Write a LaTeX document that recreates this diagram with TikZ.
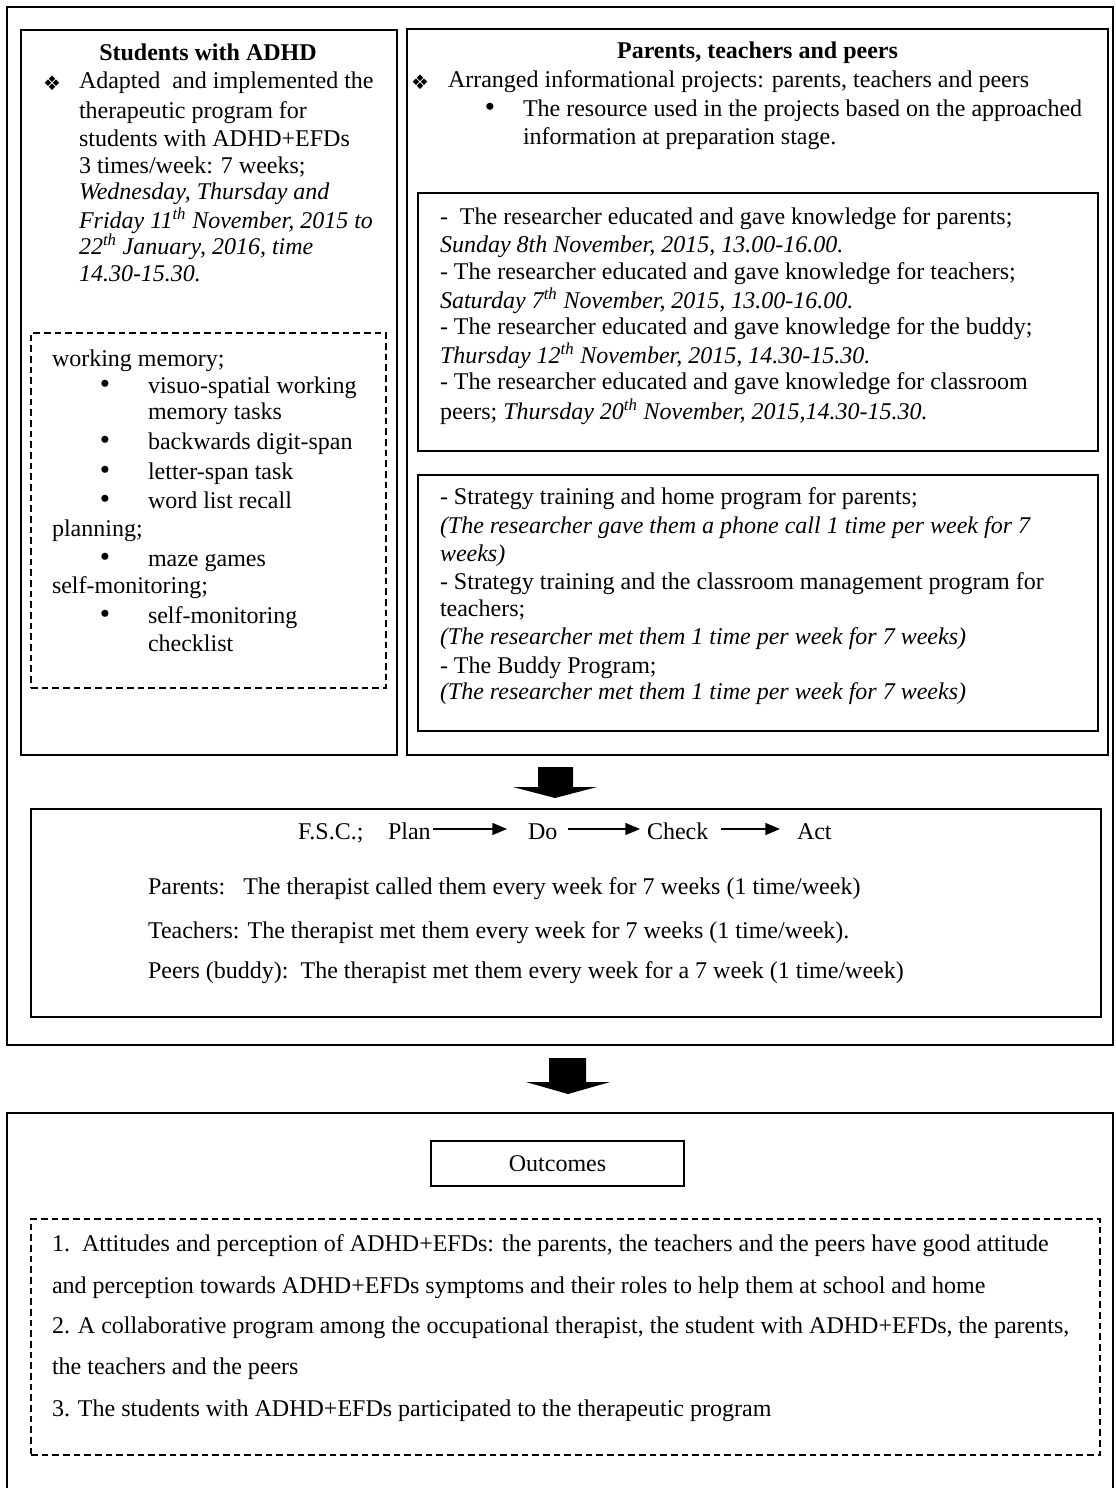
\documentclass[tikz,border=0pt]{standalone}
\usepackage{fontspec}
\setmainfont{Liberation Serif}
\newfontfamily\symfont{DejaVu Sans}
\usetikzlibrary{arrows.meta,fit}
\begin{document}
\begin{tikzpicture}[x=0.75pt, y=-0.75pt,
  every node/.style={inner sep=0pt, outer sep=0pt},
  boxframe/.style={draw, line width=1.2pt},
  dashframe/.style={draw, line width=0.9pt, dash pattern=on 5pt off 3pt},
  txt/.style={anchor=base west, font=\fontsize{18pt}{20.6pt}\selectfont},
  ttl/.style={anchor=base, font=\fontsize{18pt}{20.6pt}\selectfont\bfseries},
  sym/.style={anchor=center, font=\symfont\fontsize{15pt}{15pt}\selectfont},
  bul/.style={anchor=center, font=\fontsize{22pt}{22pt}\selectfont},
  flow/.style={-{Triangle[length=11pt,width=9pt]}, line width=1pt},
  blockarrow/.style={fill=black}
]
\useasboundingbox (0,0) rectangle (1115,1488);

% ---------- frames ----------
\node[boxframe, fit={(7,7) (1113,1045)}] (outer) {};
\node[boxframe, fit={(21,30) (397,755)}] (leftbox) {};
\node[boxframe, fit={(407,29) (1108,755)}] (rightbox) {};
\node[boxframe, fit={(418,193) (1098,451)}] (resbox) {};
\node[boxframe, fit={(418,475) (1098,731)}] (stratbox) {};
\node[dashframe, fit={(31,333) (386,688)}] (efbox) {};
\node[boxframe, fit={(31,809) (1101,1017)}] (fscbox) {};
\node[dashframe, fit={(31,1219) (1100,1455)}] (outlist) {};
\coordinate (obl) at (7,1490);
\coordinate (obtl) at (7,1113);
\coordinate (obtr) at (1113,1113);
\coordinate (obr) at (1113,1490);
\draw[line width=1.2pt] (obl) -- (obtl) -- (obtr) -- (obr);
\node[boxframe, minimum width=189.75pt, minimum height=33.75pt,
      font=\fontsize{18pt}{20.6pt}\selectfont] (outc) at (557.5,1163.5) {Outcomes};

% ---------- block arrows ----------
\fill[blockarrow] (538,767) -- (573,767) -- (573,787) -- (597,787) -- (555,798)
   -- (513,787) -- (538,787) -- cycle;
\fill[blockarrow] (549,1058) -- (586,1058) -- (586,1082) -- (610,1082) -- (568,1094)
   -- (526,1082) -- (549,1082) -- cycle;

% ---------- left box ----------
\node[ttl] (lt) at (208,61) {Students with ADHD};
\node[sym] (ls0) at (52,83) {❖};
\foreach \ty/\tx [count=\i] in {
  89/{Adapted\ \ and implemented the},
  118/{therapeutic program for},
  146/{students with ADHD+EFDs},
  173/{3 times/week: 7 weeks;},
  199/{\textit{Wednesday, Thursday and}},
  228/{\textit{Friday 11\textsuperscript{th} November, 2015 to}},
  254/{\textit{22\textsuperscript{th} January, 2016, time}},
  281/{\textit{14.30-15.30.}}}
  \node[txt] (ls\i) at (79,\ty) {\tx};

% dashed list
\foreach \ty/\tx [count=\i] in {
  366/{working memory;}, 536/{planning;}, 593/{self-monitoring;}}
  \node[txt] (eh\i) at (52,\ty) {\tx};
\foreach \ty/\tx [count=\i] in {
  393/{visuo-spatial working}, 419/{memory tasks}, 449/{backwards digit-span},
  479/{letter-span task}, 508/{word list recall}, 566/{maze games},
  623/{self-monitoring}, 651/{checklist}}
  \node[txt] (ei\i) at (148,\ty) {\tx};
\foreach \ty [count=\i] in {387,443,473,502,560,617}
  \node[bul] (eb\i) at (105,\ty) {\textbullet};

% ---------- right box ----------
\node[ttl] (rt) at (757.5,59) {Parents, teachers and peers};
\node[sym] (rs0) at (420,82) {❖};
\node[txt] (r1) at (448,88) {Arranged informational projects: parents, teachers and peers};
\node[bul] (rb1) at (490,110) {\textbullet};
\node[txt] (r2) at (523,116) {The resource used in the projects based on the approached};
\node[txt] (r3) at (523,144) {information at preparation stage.};

\foreach \ty/\tx [count=\i] in {
  224/{-\ \ The researcher educated and gave knowledge for parents;},
  252/{\textit{Sunday 8th November, 2015, 13.00-16.00.}},
  279/{- The researcher educated and gave knowledge for teachers;},
  308/{\textit{Saturday 7\textsuperscript{th} November, 2015, 13.00-16.00.}},
  334/{- The researcher educated and gave knowledge for the buddy;},
  363/{\textit{Thursday 12\textsuperscript{th} November, 2015, 14.30-15.30.}},
  389/{- The researcher educated and gave knowledge for classroom},
  419/{peers; \textit{Thursday 20\textsuperscript{th} November, 2015,14.30-15.30.}}}
  \node[txt] (re\i) at (440,\ty) {\tx};

\foreach \ty/\tx [count=\i] in {
  504/{- Strategy training and home program for parents;},
  533/{\textit{(The researcher gave them a phone call 1 time per week for 7}},
  561/{\textit{weeks)}},
  589/{- Strategy training and the classroom management program for},
  616/{teachers;},
  644/{\textit{(The researcher met them 1 time per week for 7 weeks)}},
  673/{- The Buddy Program;},
  699/{\textit{(The researcher met them 1 time per week for 7 weeks)}}}
  \node[txt] (st\i) at (440,\ty) {\tx};

% ---------- F.S.C. box ----------
\node[txt] (fsc) at (298,839) {F.S.C.;};
\node[txt] (plan) at (388,839) {Plan};
\node[txt] (do) at (528,839) {Do};
\node[txt] (check) at (647,839) {Check};
\node[txt] (act) at (797,839) {Act};
\draw[flow] (433,829) coordinate (pa) -- (507,829) coordinate (pb);
\draw[flow] (568,829) coordinate (da) -- (640,829) coordinate (db);
\draw[flow] (721,829) coordinate (ca) -- (780,829) coordinate (cb);
\node[txt] (fp) at (148,894) {Parents:\hspace{13.5pt}The therapist called them every week for 7 weeks (1 time/week)};
\node[txt] (ft) at (148,938) {Teachers: The therapist met them every week for 7 weeks (1 time/week).};
\node[txt] (fb) at (148,978) {Peers (buddy):\ \ The therapist met them every week for a 7 week (1 time/week)};

% ---------- outcomes ----------
\foreach \ty/\tx [count=\i] in {
  1251/{1.\ \ Attitudes and perception of ADHD+EFDs: the parents, the teachers and the peers have good attitude},
  1293/{and perception towards ADHD+EFDs symptoms and their roles to help them at school and home},
  1333/{2. A collaborative program among the occupational therapist, the student with ADHD+EFDs, the parents,},
  1374/{the teachers and the peers},
  1416/{3. The students with ADHD+EFDs participated to the therapeutic program}}
  \node[txt] (oc\i) at (52,\ty) {\tx};
\end{tikzpicture}
\end{document}
